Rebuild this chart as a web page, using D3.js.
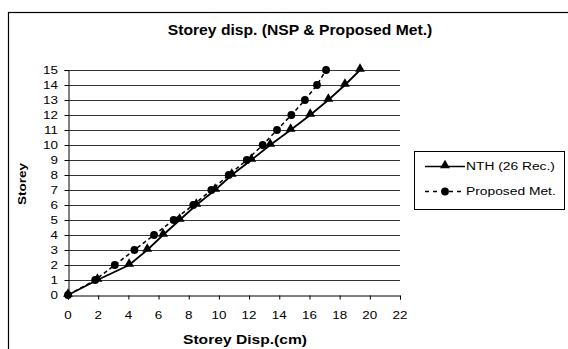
<!DOCTYPE html>
<html>
<head>
<meta charset="utf-8">
<script src="https://cdn.jsdelivr.net/npm/d3@7"></script>
<style>
  html, body { margin: 0; padding: 0; background: #fff; }
  text { font-family: Arial, "Liberation Sans", sans-serif; fill: #000; }
</style>
</head>
<body>
<svg id="chart" width="568" height="349"></svg>
<script>
// Storey levels and displacements (cm)
const storeys = [0, 1, 2, 3, 4, 5, 6, 7, 8, 9, 10, 11, 12, 13, 14, 15];
const nthDisp = [0, 1.95, 4.05, 5.25, 6.3, 7.4, 8.5, 9.75, 10.85, 12.15, 13.4, 14.75, 16.05, 17.25, 18.35, 19.35];
const proposedDisp = [0, 1.8, 3.1, 4.4, 5.7, 7.0, 8.3, 9.5, 10.65, 11.85, 12.9, 13.85, 14.8, 15.7, 16.5, 17.1];
const xTicks = [0, 2, 4, 6, 8, 10, 12, 14, 16, 18, 20, 22];
const yTicks = [0, 1, 2, 3, 4, 5, 6, 7, 8, 9, 10, 11, 12, 13, 14, 15];
const seriesNames = ["NTH (26 Rec.)", "Proposed Met."];

const svg = d3.select("#chart");

// outer chart frame
svg.append("rect").attr("x", 8.5).attr("y", 12.5).attr("width", 600).attr("height", 400)
  .attr("fill", "none").attr("stroke", "#000").attr("stroke-width", 1.2);

const x = d3.scaleLinear().domain([0, 22]).range([68, 400]);
const y = d3.scaleLinear().domain([0, 15]).range([295, 70]);

// text drawn with horizontally widened glyphs
function stext(g, tx, ty, str, size, weight, anchor, sx) {
  return g.append("text")
    .attr("transform", `translate(${tx},${ty}) scale(${sx},1)`)
    .attr("font-size", size).attr("font-weight", weight || "normal")
    .attr("text-anchor", anchor || "start").text(str);
}

// horizontal grid lines
svg.append("g").selectAll("line").data(yTicks.filter(d => d > 0)).join("line")
  .attr("x1", x(0)).attr("x2", x(22))
  .attr("y1", d => Math.round(y(d)) + 0.5).attr("y2", d => Math.round(y(d)) + 0.5)
  .attr("stroke", "#333").attr("stroke-width", 1);

// axes
const xAxis = svg.append("g").attr("transform", `translate(0,${Math.round(y(0)) + 0.5})`)
  .call(d3.axisBottom(x).tickValues(xTicks).tickSize(4).tickFormat(""));
const yAxis = svg.append("g").attr("transform", `translate(${Math.round(x(0)) + 0.5},0)`)
  .call(d3.axisLeft(y).tickValues(yTicks).tickSize(4).tickFormat(""));
[xAxis, yAxis].forEach(a => {
  a.selectAll("path, line").attr("stroke", "#000").attr("stroke-width", 1);
});

// tick labels
const tl = svg.append("g");
xTicks.forEach(v => stext(tl, x(v), 319, String(v), 10.5, "normal", "middle", 1.28));
yTicks.forEach(v => stext(tl, 58, y(v) + 4, String(v), 10.5, "normal", "end", 1.28));

// titles
stext(svg, 300, 35, "Storey disp. (NSP & Proposed Met.)", 14, "bold", "middle", 1.12);
stext(svg, 245, 344, "Storey Disp.(cm)", 12.5, "bold", "middle", 1.25);
svg.append("text")
  .attr("transform", `translate(26,184) rotate(-90) scale(1.17,1)`)
  .attr("font-size", 11.5).attr("font-weight", "bold").attr("text-anchor", "middle").text("Storey");

// series
const line = d3.line().x(d => x(d[0])).y(d => y(d[1]));
const nthPts = storeys.map((s, i) => [nthDisp[i], s]);
const propPts = storeys.map((s, i) => [proposedDisp[i], s]);

svg.append("path").datum(propPts).attr("d", line)
  .attr("fill", "none").attr("stroke", "#000").attr("stroke-width", 1.5).attr("stroke-dasharray", "4,3");
svg.append("path").datum(nthPts).attr("d", line)
  .attr("fill", "none").attr("stroke", "#000").attr("stroke-width", 1.8);

const tri = d3.symbol().type(d3.symbolTriangle).size(42);
const circ = d3.symbol().type(d3.symbolCircle).size(48);

svg.append("g").selectAll("path").data(nthPts).join("path")
  .attr("d", tri).attr("transform", d => `translate(${x(d[0])},${y(d[1]) - 1})`).attr("fill", "#000");
svg.append("g").selectAll("path").data(propPts).join("path")
  .attr("d", circ).attr("transform", d => `translate(${x(d[0])},${y(d[1])})`).attr("fill", "#000");

// legend
const lg = svg.append("g");
lg.append("rect").attr("x", 414.5).attr("y", 151.5).attr("width", 150).attr("height", 58)
  .attr("fill", "#fff").attr("stroke", "#000").attr("stroke-width", 1);
const legendRows = [
  { name: seriesNames[0], y: 166.5, dash: null, sym: tri, dy: -1 },
  { name: seriesNames[1], y: 191.5, dash: "4,4", sym: circ, dy: 0 }
];
legendRows.forEach(r => {
  lg.append("line").attr("x1", 425).attr("x2", 465).attr("y1", r.y).attr("y2", r.y)
    .attr("stroke", "#000").attr("stroke-width", 1.5).attr("stroke-dasharray", r.dash);
  lg.append("path").attr("d", r.sym).attr("transform", `translate(445,${r.y + r.dy})`).attr("fill", "#000");
  stext(lg, 466, r.y + 3.5, r.name, 10, "normal", "start", 1.38);
});
</script>
</body>
</html>
